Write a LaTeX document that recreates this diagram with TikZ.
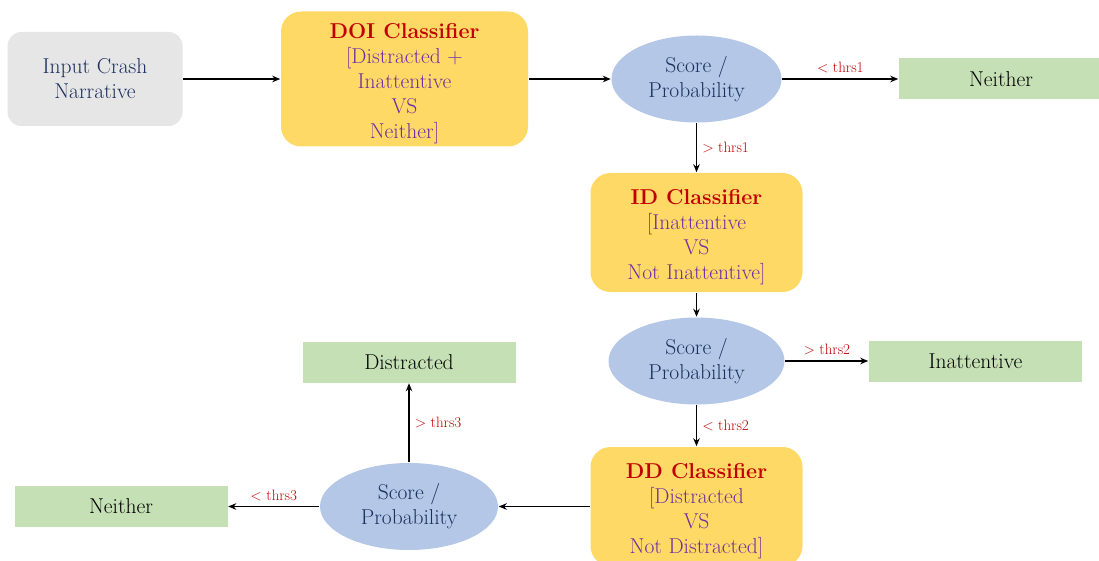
\documentclass[tikz,border=0pt]{standalone}
\usetikzlibrary{arrows.meta,positioning,shapes.geometric}

\definecolor{inputgray}{HTML}{E7E6E6}
\definecolor{classyellow}{HTML}{FFD966}
\definecolor{scoreblue}{HTML}{B4C7E7}
\definecolor{outgreen}{HTML}{C5E0B4}
\definecolor{titlered}{HTML}{C00000}
\definecolor{classpurple}{HTML}{7030A0}
\definecolor{scorenavy}{HTML}{1A2F5C}

% classifier heading, with a strut so the lines sit a little lower
\newcommand{\classtitle}[1]{\rule{0pt}{24pt}\textcolor{titlered}{\textbf{#1}}}

\begin{document}
\begin{tikzpicture}[x=1pt,y=-1pt,->,>={Stealth[length=8pt,width=6.5pt]},line width=1.5pt,auto,
  base/.style={align=center,inner sep=0pt,font=\fontsize{21.5}{25}\selectfont},
  input node/.style={base,fill=inputgray,rounded corners=14pt,minimum width=175pt,minimum height=94pt,text=scorenavy},
  class node/.style={base,fill=classyellow,rounded corners=20pt,minimum width=212pt,minimum height=119pt,text=classpurple},
  score node/.style={base,ellipse,fill=scoreblue,minimum width=172pt,minimum height=87pt,text=scorenavy},
  out node/.style={base,fill=outgreen,minimum width=213pt,minimum height=41pt,text=black},
  thrs/.style={font=\fontsize{15}{17}\selectfont,text=titlered,inner sep=5pt}]

  \useasboundingbox (0,0) rectangle (1099,561);

  \node[input node] (IN) at (95,79) {Input Crash\\Narrative};
  \node[class node,minimum width=247pt,minimum height=135pt] (DOI) [right=97pt of IN]
    {\classtitle{DOI Classifier}\\{[}Distracted +\\Inattentive\\VS\\Neither]};
  \node[score node,minimum width=170pt] (S1) [right=82pt of DOI] {Score /\\Probability};
  \node[out node,minimum width=204pt] (N1) [right=116pt of S1] {Neither};
  \node[class node] (ID) [below=49pt of S1]
    {\classtitle{ID Classifier}\\{[}Inattentive\\VS\\Not Inattentive]};
  \node[score node,minimum width=176pt] (S2) [below=24pt of ID] {Score /\\Probability};
  \node[out node] (IA) [right=83pt of S2] {Inattentive};
  \node[class node] (DD) [below=41pt of S2]
    {\classtitle{DD Classifier}\\{[}Distracted\\VS\\Not Distracted]};
  \node[score node,minimum width=178pt] (S3) [left=91pt of DD] {Score /\\Probability};
  \node[out node] (N3) [left=91pt of S3] {Neither};
  \node[out node] (DI) [above=79pt of S3] {Distracted};

  \path
       (IN) edge (DOI)
       (DOI) edge (S1)
       (S1) edge node[thrs] {< thrs1} (N1)
       (S1) edge node[thrs] {> thrs1} (ID)
       (ID) edge (S2)
       (S2) edge node[thrs] {> thrs2} (IA)
       (S2) edge node[thrs] {< thrs2} (DD)
       (DD) edge (S3)
       (S3) edge node[thrs,swap] {< thrs3} (N3)
       (S3) edge node[thrs,swap] {> thrs3} (DI);
\end{tikzpicture}
\end{document}
